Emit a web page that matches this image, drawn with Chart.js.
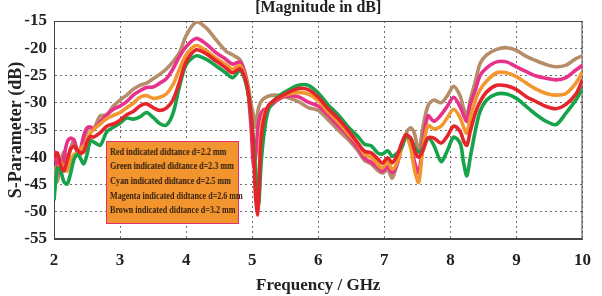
<!DOCTYPE html>
<html>
<head>
<meta charset="utf-8">
<script src="https://cdn.jsdelivr.net/npm/chart.js@4.4.1/dist/chart.umd.min.js"></script>
<style>
  body { margin: 0; background: #fff; }
  #wrap { position: relative; width: 602px; height: 296px; }
  #key {
    position: absolute; left: 106px; top: 141px; width: 131px; height: 81px;
    background: #f2952f; border: 1.5px solid #e2306c;
    font: bold 10.5px "Liberation Serif", serif; color: #3b2410;
  }
  #key div {
    position: absolute; left: 3px; line-height: 12px; white-space: nowrap;
    transform: scaleX(0.77); transform-origin: left center;
  }
</style>
</head>
<body>
<div id="wrap">
  <canvas id="sparamChart" width="602" height="296"></canvas>
  <div id="key">
    <div style="top:4px">Red indicated didtance d=2.2 mm</div>
    <div style="top:18px">Green indicated didtance d=2.3 mm</div>
    <div style="top:33px">Cyan indicated didtance d=2.5 mm</div>
    <div style="top:48px">Magenta indicated didtance d=2.6 mm</div>
    <div style="top:62px">Brown indicated didtance d=3.2 mm</div>
  </div>
</div>
<script>
// -------------------------------------
// Data (GHz / dB)
// -------------------------------------
const freq = [2.0, 2.05, 2.1, 2.15, 2.2, 2.25, 2.3, 2.35, 2.4, 2.45, 2.5, 2.55, 2.6, 2.7, 2.8, 2.9,
  3.0, 3.1, 3.2, 3.3, 3.4, 3.5, 3.6, 3.7, 3.8, 3.9, 4.0, 4.15, 4.3, 4.45, 4.6, 4.7, 4.82, 4.92, 4.98,
  5.02, 5.05, 5.08, 5.1, 5.13, 5.17, 5.24, 5.35, 5.5, 5.7, 5.85, 6.0, 6.15, 6.3, 6.45, 6.6, 6.7, 6.8,
  6.9, 6.97, 7.05, 7.12, 7.2, 7.27, 7.33, 7.4, 7.46, 7.52, 7.58, 7.66, 7.75, 7.86, 7.95, 8.05, 8.15,
  8.2, 8.25, 8.3, 8.38, 8.45, 8.55, 8.7, 8.85, 9.0, 9.15, 9.3, 9.45, 9.6, 9.75, 9.9, 10.0];

const redDb = [-40, -39.2, -41.5, -42.5, -40.5, -38.5, -38, -38.6, -39.2, -39, -37.2, -36.2, -36.3, -35.5, -34.3, -33.9,
  -33.2, -32.2, -31.6, -30.6, -30.2, -30.9, -31.4, -31, -29.5, -26.2, -22.5, -20.3, -21, -22.3, -23.6, -24.5, -23.8, -26.8, -32,
  -39, -47, -50.6, -47, -37.5, -33.5, -30.6, -29.4, -28.4, -27.4, -27.6, -29, -31.1, -32.9, -35, -37.4, -38.9, -39.2,
  -40.3, -41.1, -40.1, -41, -39.5, -37.2, -35.9, -36.5, -38.8, -40, -38.9, -36.5, -36.5, -37.4, -36.2, -34.3, -35.3,
  -37, -37.8, -35.3, -31.8, -29.8, -28, -26.8, -26.9, -27.6, -28.9, -29.8, -30.7, -31.1, -30.3, -28.4, -25.8];

const greenDb = [-47.9, -42, -42.5, -44.5, -44.9, -43, -40.5, -39.5, -40.2, -41.2, -39.5, -37, -37.2, -37.8, -35.3, -34.5,
  -33.7, -32.8, -33, -32.6, -31.8, -32.7, -33.8, -34.1, -32, -27, -23, -21.4, -22, -23.2, -24.5, -25.4, -24.1, -27.2, -32,
  -37, -42, -47.5, -48.5, -42, -36.6, -31.5, -29.3, -28, -26.8, -26.8, -28.2, -30.4, -32.2, -34.4, -36.2, -37.6, -37.9,
  -39.2, -39.4, -38.8, -39.8, -39.2, -38, -36.2, -36.6, -38.2, -39, -38.6, -36.5, -37.8, -40.8, -38.9, -36.3, -37.5,
  -41, -43.4, -40.1, -35, -31.6, -29.5, -28.4, -28.4, -29.2, -30.7, -32.2, -33.4, -34, -31.9, -29.5, -27.3];

const cyanDb = [-44.6, -42.5, -40.9, -42.2, -42.5, -40.5, -39.6, -39.2, -38.5, -37.9, -36.8, -35.6, -34.9, -33.9, -32.9, -32.3,
  -31.8, -30.9, -30.1, -29, -28.7, -29.2, -29, -28.4, -26.7, -23.8, -21.2, -19.5, -20.4, -21.8, -23, -23.8, -23.2, -26.5, -32,
  -38, -45, -49, -45, -36, -32.5, -30.8, -29.5, -28.6, -28.1, -28.4, -29.6, -31.7, -33.5, -35.6, -37.6, -39.5, -40,
  -41.3, -42, -40.8, -42.2, -40.8, -38, -36.2, -38.3, -42.5, -44.6, -38.9, -34.2, -34.8, -34.3, -32.8, -31.2, -32.8,
  -34.5, -35.6, -32.8, -29.5, -27.6, -26, -24.5, -24.5, -25.2, -26.4, -27.5, -28.3, -28.6, -28.3, -26.4, -24.3];

const magentaDb = [-38.8, -41.5, -43, -40, -37.2, -36.5, -36.8, -39, -38.5, -36, -34.6, -34.5, -34.8, -33.5, -32.2, -31.2,
  -30.6, -29.8, -28.6, -27.8, -27.2, -27.1, -26.4, -25.6, -23.8, -21.5, -19.7, -18.2, -19.2, -20.8, -22, -22.9, -22.6, -26.5, -34,
  -41.5, -40, -35.4, -33.5, -32, -31.3, -31, -29.8, -28.8, -28.9, -29.9, -30.6, -32.3, -34.2, -36, -38.3, -40.2, -40.9,
  -41.8, -42.6, -41.7, -42.8, -41.1, -37.5, -35.9, -37.4, -41, -42.9, -37.7, -32.4, -33.4, -32.2, -30.7, -29, -30.8,
  -32.3, -33.4, -30.4, -27.6, -25, -23.6, -22.5, -22.5, -23.4, -24.3, -25.1, -25.5, -25.8, -25.4, -24, -23.1];

const brownDb = [-41.5, -44.5, -41, -39, -40.5, -38.5, -36.8, -38.5, -39.6, -37, -35.2, -34.4, -34.8, -32.4, -32.2, -30.6,
  -29.5, -28.6, -27.5, -26.8, -26.4, -25.6, -24.8, -23.8, -22.5, -20.8, -17.7, -15.2, -16.2, -18.4, -20.5, -21.2, -22.2, -25.8, -30,
  -32.4, -34.5, -32, -30.8, -29.9, -29.3, -28.8, -28.6, -28.9, -29.8, -30.9, -31.4, -33.1, -35, -36.7, -38.8, -40.6, -41.2,
  -42.4, -42.9, -42.3, -43.8, -40.8, -37.5, -35.6, -34.6, -35.8, -39, -34.8, -30.6, -29.5, -30, -28.8, -27, -28.8,
  -31, -32.3, -29.5, -26, -22.8, -21.2, -20.2, -19.9, -20.4, -21.5, -22.3, -23, -23.4, -23.1, -21.9, -21.4];

const xTicks = [2, 3, 4, 5, 6, 7, 8, 9, 10];
const yTicks = [-55, -50, -45, -40, -35, -30, -25, -20, -15];

const serif = '"Liberation Serif", "Times New Roman", serif';

function toPoints(vals) {
  return freq.map((f, i) => ({ x: f, y: vals[i] }));
}

function line(label, vals, color) {
  return {
    label: label,
    data: toPoints(vals),
    borderColor: color,
    backgroundColor: color,
    borderWidth: 3.6,
    pointRadius: 0,
    tension: 0.3,
    fill: false,
  };
}

// solid frame round the plot area (top / right edges)
const frame = {
  id: "frame",
  beforeDatasetsDraw(chart) {
    const { ctx, chartArea: a } = chart;
    ctx.save();
    ctx.strokeStyle = "#444";
    ctx.lineWidth = 1;
    ctx.strokeRect(a.left + 0.5, a.top + 0.5, a.right - a.left - 1, a.bottom - a.top - 1);
    ctx.restore();
  },
};

const ctx = document.getElementById("sparamChart");

new Chart(ctx, {
  type: "line",
  data: {
    datasets: [
      line("Red", redDb, "#e4252b"),
      line("Green", greenDb, "#17a34a"),
      line("Cyan", cyanDb, "#f3962e"),
      line("Magenta", magentaDb, "#e7318b"),
      line("Brown", brownDb, "#b58d68"),
    ],
  },
  plugins: [frame],
  options: {
    responsive: false,
    animation: false,
    layout: { padding: { top: 0, right: 11, bottom: 0, left: 0 } },
    plugins: {
      legend: { display: false },
      tooltip: { enabled: false },
      title: {
        display: true,
        text: "[Magnitude in dB]",
        fullSize: false,
        color: "#222",
        font: { family: serif, size: 16, weight: "bold", lineHeight: 1 },
        padding: { top: 0, bottom: 5 },
      },
    },
    scales: {
      x: {
        type: "linear",
        min: 2,
        max: 10,
        afterBuildTicks: (s) => { s.ticks = xTicks.map((v) => ({ value: v })); },
        afterFit: (s) => { s.height = 57; },
        ticks: { color: "#222", padding: 11, font: { family: serif, size: 17, weight: "bold" } },
        grid: { color: "#707070", drawTicks: false },
        border: { display: true, color: "#444", dash: [2, 3] },
        title: {
          display: true,
          text: "Frequency / GHz",
          color: "#222",
          font: { family: serif, size: 17, weight: "bold" },
          padding: { top: 0, bottom: 0 },
        },
      },
      y: {
        min: -55,
        max: -15,
        afterBuildTicks: (s) => { s.ticks = yTicks.map((v) => ({ value: v })); },
        afterFit: (s) => { s.width = 54; },
        ticks: { color: "#222", padding: 7, font: { family: serif, size: 17, weight: "bold" } },
        grid: { color: "#707070", drawTicks: false },
        border: { display: true, color: "#444", dash: [2, 3] },
        title: {
          display: true,
          text: "S-Parameter (dB)",
          color: "#222",
          font: { family: serif, size: 18, weight: "bold" },
          padding: { top: 6, bottom: 0 },
        },
      },
    },
  },
});
</script>
</body>
</html>
